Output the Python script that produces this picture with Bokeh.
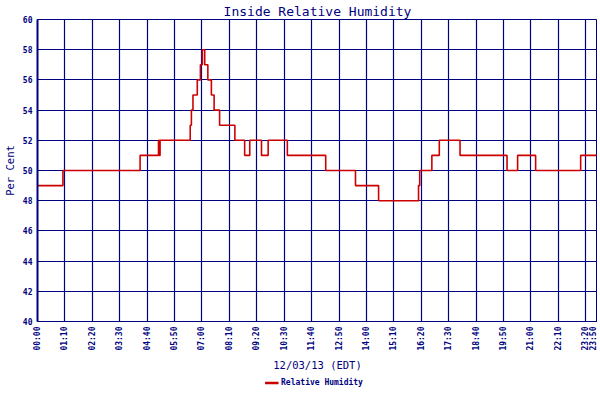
import math
from bokeh.plotting import figure
from bokeh.layouts import column
from bokeh.models import FixedTicker, LinearAxis, Legend, LegendItem, Range1d
from bokeh.embed import file_html
from bokeh.resources import INLINE

# Data: minutes since midnight at which the reading changed, and reading (%)
times = [0, 65, 262, 309, 311, 313, 390, 393, 397, 408, 416, 421, 427, 435, 444,
         451, 465, 504, 529, 542, 572, 589, 638, 736, 812, 871, 973, 976, 1007,
         1026, 1079, 1199, 1226, 1272, 1387, 1430]
values = [49, 50, 51, 52, 51, 52, 53, 54, 55, 56, 57, 58, 57, 56, 55,
          54, 53, 52, 51, 52, 51, 52, 51, 50, 49, 48, 49, 50, 51,
          52, 51, 50, 51, 50, 51, 51]

tick_minutes = [0, 70, 140, 210, 280, 350, 420, 490, 560, 630, 700, 770, 840,
                910, 980, 1050, 1120, 1190, 1260, 1330, 1400, 1430]
tick_labels = ["00:00", "01:10", "02:20", "03:30", "04:40", "05:50", "07:00",
               "08:10", "09:20", "10:30", "11:40", "12:50", "14:00", "15:10",
               "16:20", "17:30", "18:40", "19:50", "21:00", "22:10", "23:20",
               "23:50"]
y_ticks = [40, 42, 44, 46, 48, 50, 52, 54, 56, 58, 60]
series_name = "Relative Humidity"

NAVY = "#000080"
RED = "#cc0000"
FONT = "DejaVu Sans Mono"

p = figure(frame_width=560, frame_height=302, output_backend="svg", toolbar_location=None,
           x_range=Range1d(0, 1430), y_range=Range1d(40, 60),
           min_border_left=0, min_border_right=0, min_border_top=0, min_border_bottom=0)

p.title.text = "Inside Relative Humidity"
p.title.align = "center"
p.title.text_color = NAVY
p.title.text_font = FONT
p.title.text_font_size = "13px"
p.title.text_font_style = "normal"
p.title.standoff = 2

r = p.step(times, values, mode="after", line_color=RED, line_width=1.6)

xt = FixedTicker(ticks=tick_minutes)
yt = FixedTicker(ticks=y_ticks)

xa = p.xaxis[0]
xa.ticker = xt
xa.major_label_overrides = {m: l for m, l in zip(tick_minutes, tick_labels)}
xa.major_label_orientation = math.pi / 2
xa.axis_label = "12/03/13 (EDT)"

ya = p.yaxis[0]
ya.ticker = yt
ya.axis_label = "Per Cent"

for ax in (xa, ya):
    ax.major_tick_in = 0
    ax.major_tick_out = 0
    ax.minor_tick_line_color = None
    ax.axis_line_color = NAVY
    ax.major_label_text_color = NAVY
    ax.major_label_text_font = FONT
    ax.major_label_text_font_size = "8px"
    ax.major_label_text_font_style = "bold"
    ax.axis_label_text_color = NAVY
    ax.axis_label_text_font = FONT
    ax.axis_label_text_font_size = "10.5px"
    ax.axis_label_text_font_style = "normal"
    ax.major_label_standoff = 5
    ax.axis_label_standoff = 5
ya.axis_line_width = 2
ya.major_label_standoff = 5
ya.axis_label_standoff = 4

right = LinearAxis(ticker=FixedTicker(ticks=[]),
                   major_tick_in=0, major_tick_out=0, minor_tick_line_color=None,
                   axis_line_color=NAVY, axis_line_width=2)
p.add_layout(right, "right")

p.xgrid.ticker = xt
p.ygrid.ticker = yt
for g in (p.xgrid[0], p.ygrid[0]):
    g.grid_line_color = NAVY
    g.grid_line_width = 1.2
    g.grid_line_alpha = 1.0

p.outline_line_color = NAVY
p.outline_line_width = 1

# Separate strip below the chart that carries the legend
p2 = figure(width=590, height=18, output_backend="svg", toolbar_location=None,
            x_range=Range1d(0, 1), y_range=Range1d(0, 1),
            x_axis_type=None, y_axis_type=None,
            min_border_left=0, min_border_right=0, min_border_top=0, min_border_bottom=0)
p2.outline_line_color = None
p2.xgrid.visible = False
p2.ygrid.visible = False
r2 = p2.line(times, values, line_color=RED, line_width=2.5)  # outside p2's ranges; only feeds the legend swatch

legend = Legend(items=[LegendItem(label=series_name, renderers=[r2])],
                orientation="horizontal", location="center",
                label_text_font=FONT, label_text_font_size="8px",
                label_text_font_style="bold", label_text_color=NAVY,
                border_line_color=None, background_fill_alpha=0,
                glyph_width=14, glyph_height=6, padding=0, margin=0,
                label_standoff=3, label_height=8)
p2.add_layout(legend, "center")

layout = column(p, p2, spacing=0)

open("out.html", "w").write(file_html(layout, INLINE))
